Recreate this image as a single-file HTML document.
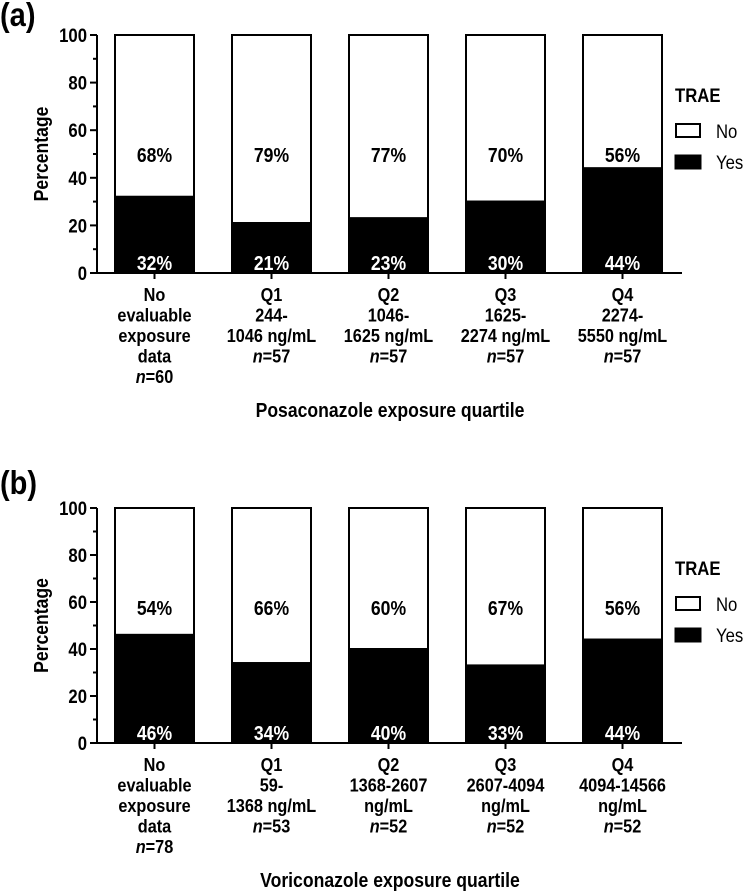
<!DOCTYPE html>
<html><head><meta charset="utf-8"><style>
body{margin:0;background:#fff;}
svg text{font-family:"Liberation Sans",Arial,sans-serif;}
</style></head><body>
<svg id="c" width="748" height="891" xmlns="http://www.w3.org/2000/svg"></svg>
<script>
const categoriesA = [["No","evaluable","exposure","data","n=60"],["Q1","244-","1046 ng/mL","n=57"],["Q2","1046-","1625 ng/mL","n=57"],["Q3","1625-","2274 ng/mL","n=57"],["Q4","2274-","5550 ng/mL","n=57"]];
const categoriesB = [["No","evaluable","exposure","data","n=78"],["Q1","59-","1368 ng/mL","n=53"],["Q2","1368-2607","ng/mL","n=52"],["Q3","2607-4094","ng/mL","n=52"],["Q4","4094-14566","ng/mL","n=52"]];
const yesA = [32,21,23,30,44];
const noA = [68,79,77,70,56];
const yesB = [46,34,40,33,44];
const noB = [54,66,60,67,56];
const yTicks = [0,20,40,60,80,100];

const svg = document.getElementById('c');
const NS = 'http://www.w3.org/2000/svg';
function mk(tag, attrs, parent){const e=document.createElementNS(NS,tag);for(const k in attrs)e.setAttribute(k,attrs[k]);(parent||svg).appendChild(e);return e;}
const SX = 0.88;
function txt(parent, x, y, str, size, opts){
  opts = opts||{};
  const t = mk('text',{x:0,y:0,'font-size':size,'font-weight':opts.bold===false?'normal':'bold','text-anchor':opts.anchor||'start',fill:opts.fill||'#000',
    transform:`translate(${x},${y}) ${opts.rot?'rotate(-90) ':''}scale(${SX},1)`},parent);
  if(str.startsWith('n=')){const ts=mk('tspan',{'font-style':'italic'},t);ts.textContent='n';t.appendChild(document.createTextNode(str.slice(1)));}
  else t.textContent = str;
  return t;
}

function panel(P, cats, yes, no, title, key){
  const g = mk('g',{});
  
  
  const y0 = P.y0, y1 = P.y1;
  const ys = v => y0 - (y0-y1)*v/100;
  const xc = i => 154.5 + 117*i;
  const bw = 79;
  const lt = txt(g, 0, P.letterY+11, P.letter, 33);
  
  
  for(let i=0;i<cats.length;i++){
    const x = xc(i)-bw/2;
    const nb = mk('rect',{x:x,y:ys(100),width:bw,height:ys(yes[i])-ys(100),fill:'#fff',stroke:'#000','stroke-width':2},g);
    
    
    const yb = mk('rect',{x:x,y:ys(yes[i]),width:bw,height:y0-ys(yes[i]),fill:'#000',stroke:'#000','stroke-width':2},g);
    
    
    const t1 = txt(g, xc(i), y1+P.noLabel+7, no[i]+'%', 20, {anchor:'middle'});
    
    
    const t2 = txt(g, xc(i), y0-3, yes[i]+'%', 20, {anchor:'middle', fill:'#fff'});
    
    
    mk('line',{x1:xc(i),x2:xc(i),y1:y0,y2:y0+6,stroke:'#000','stroke-width':2},g);
    cats[i].forEach((s,j)=>{
      const t = txt(g, xc(i), y0+28+j*20.5, s, 18.5, {anchor:'middle'});
      
      
    });
  }
  mk('line',{x1:97,x2:97,y1:y1,y2:y0+1,stroke:'#000','stroke-width':2},g);
  mk('line',{x1:96,x2:682,y1:y0,y2:y0,stroke:'#000','stroke-width':2},g);
  for(let v=0;v<=100;v+=10){
    mk('line',{x1:yTicks.includes(v)?90:93,x2:97,y1:ys(v),y2:ys(v),stroke:'#000','stroke-width':2},g);
  }
  yTicks.forEach(v=>{
    const t = txt(g, 87, ys(v)+7, String(v), 19, {anchor:'end'});
    
    
  });
  const yt = txt(g, 48, (y0+y1)/2, 'Percentage', 20, {anchor:'middle', rot:true});
  
  
  const xt = txt(g, 390, y0+144, title, 20, {anchor:'middle'});
  
  
  const lg = mk('g',{},g);
  
  
  const L = P.legY;
  txt(lg, 675, L+6, 'TRAE', 19);
  mk('rect',{x:676,y:L+28,width:24,height:13,fill:'#fff',stroke:'#000','stroke-width':2},lg);
  const ln = txt(lg, 716, L+42, 'No', 19, {bold:false});
  
  
  mk('rect',{x:675,y:L+59,width:26,height:14,fill:'#000',stroke:'#000','stroke-width':1},lg);
  const ly = txt(lg, 716, L+73, 'Yes', 19, {bold:false});
  
  
}
panel({y0:273,y1:35,letter:'(a)',letterY:15,noLabel:120,legY:96},categoriesA,yesA,noA,'Posaconazole exposure quartile','a');
panel({y0:743,y1:508,letter:'(b)',letterY:483,noLabel:100,legY:569},categoriesB,yesB,noB,'Voriconazole exposure quartile','b');
</script>
</body></html>
